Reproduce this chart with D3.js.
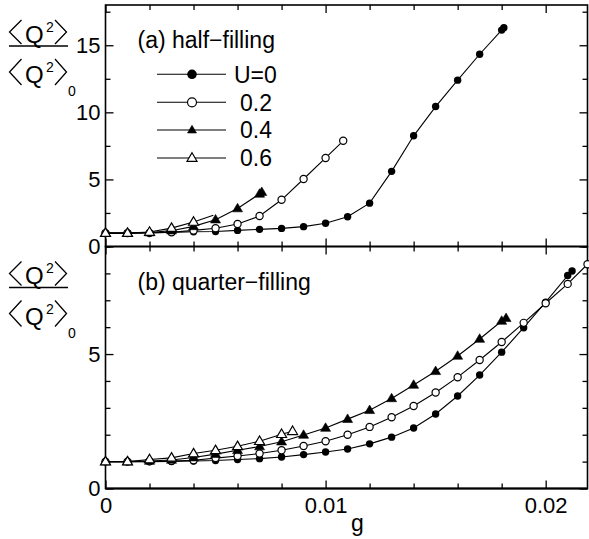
<!DOCTYPE html>
<html>
<head>
<meta charset="utf-8">
<script src="https://cdn.jsdelivr.net/npm/d3@7"></script>
<style>
  html, body { margin: 0; padding: 0; background: #fff; }
  svg { display: block; }
  text { font-family: "Liberation Sans", Arial, Helvetica, sans-serif; fill: #000; }
</style>
</head>
<body>
<svg id="chart" width="589" height="539"></svg>
<script>
// ---- data: normalized fluctuation <Q^2>/<Q^2>_0 versus coupling g ----

// (a) half-filling
const halfG_U0  = [0, 0.001, 0.002, 0.003, 0.004, 0.005, 0.006, 0.007, 0.008, 0.009, 0.010, 0.011, 0.012, 0.013, 0.014, 0.015, 0.016, 0.017, 0.018, 0.0181];
const halfU0    = [1.0, 1.0, 1.02, 1.05, 1.1, 1.12, 1.2, 1.28, 1.35, 1.48, 1.73, 2.22, 3.23, 5.6, 8.25, 10.43, 12.4, 14.33, 16.13, 16.3];
const halfG_U02 = [0, 0.001, 0.002, 0.003, 0.004, 0.005, 0.006, 0.007, 0.008, 0.009, 0.010, 0.0108];
const halfU02   = [1.0, 1.0, 1.01, 1.06, 1.2, 1.36, 1.68, 2.27, 3.48, 5.03, 6.6, 7.88];
const halfG_U04 = [0, 0.001, 0.002, 0.003, 0.004, 0.005, 0.006, 0.007, 0.0071];
const halfU04   = [1.0, 1.0, 1.04, 1.18, 1.5, 2.0, 2.83, 3.92, 4.05];
const halfG_U06 = [0, 0.001, 0.002, 0.003, 0.004, 0.0049];
const halfU06   = [1.0, 1.0, 1.08, 1.37, 1.83, 2.33];

// (b) quarter-filling
const quarterG_U0  = [0, 0.001, 0.002, 0.003, 0.004, 0.005, 0.006, 0.007, 0.008, 0.009, 0.010, 0.011, 0.012, 0.013, 0.014, 0.015, 0.016, 0.017, 0.018, 0.019, 0.020, 0.021, 0.0212];
const quarterU0    = [1.0, 1.0, 1.0, 1.01, 1.02, 1.04, 1.08, 1.11, 1.17, 1.26, 1.36, 1.47, 1.66, 1.91, 2.25, 2.77, 3.44, 4.22, 5.07, 5.98, 6.93, 7.92, 8.09];
const quarterG_U02 = [0, 0.001, 0.002, 0.003, 0.004, 0.005, 0.006, 0.007, 0.008, 0.009, 0.010, 0.011, 0.012, 0.013, 0.014, 0.015, 0.016, 0.017, 0.018, 0.019, 0.020, 0.021, 0.0219];
const quarterU02   = [1.0, 1.0, 1.01, 1.02, 1.05, 1.13, 1.21, 1.3, 1.42, 1.58, 1.76, 2.0, 2.29, 2.65, 3.07, 3.57, 4.14, 4.78, 5.45, 6.16, 6.89, 7.61, 8.34];
const quarterG_U04 = [0, 0.001, 0.002, 0.003, 0.004, 0.005, 0.006, 0.007, 0.008, 0.009, 0.010, 0.011, 0.012, 0.013, 0.014, 0.015, 0.016, 0.017, 0.018, 0.0182];
const quarterU04   = [1.0, 1.0, 1.02, 1.06, 1.15, 1.28, 1.42, 1.56, 1.74, 1.99, 2.25, 2.58, 2.91, 3.35, 3.85, 4.36, 4.93, 5.56, 6.23, 6.33];
const quarterG_U06 = [0, 0.001, 0.002, 0.003, 0.004, 0.005, 0.006, 0.007, 0.008, 0.0085];
const quarterU06   = [1.0, 1.0, 1.08, 1.14, 1.3, 1.42, 1.57, 1.76, 2.02, 2.13];

// legend entries and panel captions
const legendLabels = ["U=0", "0.2", "0.4", "0.6"];
const markerKinds  = ["dot", "circle", "triFilled", "triOpen"];
const panelTitles  = ["(a) half\u2212filling", "(b) quarter\u2212filling"];

// axis ticks
const xMajorTicks   = [0, 0.01, 0.02];
const xTickLabels   = ["0", "0.01", "0.02"];
const halfYMajor    = [0, 5, 10, 15];
const quarterYMajor = [0, 5];

// ---- layout ----
const svg = d3.select("#chart");
const xLeft = 105.5, xRight = 587.5;
const x = d3.scaleLinear().domain([0, 0.0219]).range([xLeft, xRight]);
const xMinor = d3.range(0, 0.0219, 0.002);

const panels = [
  { top: 5,     bottom: 246.5, ymax: 18, minorStep: 2.5, major: halfYMajor,
    title: panelTitles[0], titleY: 48, labelBar: 46,
    series: [
      { g: halfG_U0,  v: halfU0,  kind: "dot" },
      { g: halfG_U02, v: halfU02, kind: "circle" },
      { g: halfG_U04, v: halfU04, kind: "triFilled" },
      { g: halfG_U06, v: halfU06, kind: "triOpen", unmarkedTail: 1 }
    ] },
  { top: 246.5, bottom: 488.5, ymax: 9,  minorStep: 1,   major: quarterYMajor,
    title: panelTitles[1], titleY: 290, labelBar: 287.5,
    series: [
      { g: quarterG_U0,  v: quarterU0,  kind: "dot" },
      { g: quarterG_U02, v: quarterU02, kind: "circle" },
      { g: quarterG_U04, v: quarterU04, kind: "triFilled" },
      { g: quarterG_U06, v: quarterU06, kind: "triOpen" }
    ] }
];

// marker shapes, drawn around (0,0); k scales the symbol
function drawMarker(sel, kind, k) {
  k = k || 1;
  if (kind === "dot") {
    sel.append("circle").attr("r", 3.7 * k).attr("fill", "#000");
  } else if (kind === "circle") {
    sel.append("circle").attr("r", 3.6 * k).attr("fill", "#fff")
      .attr("stroke", "#000").attr("stroke-width", 1.2);
  } else {
    const tri = `M0,${-5.2 * k}L${5 * k},${3.3 * k}L${-5 * k},${3.3 * k}Z`;
    if (kind === "triFilled") {
      sel.append("path").attr("d", tri).attr("fill", "#000")
        .attr("stroke", "#000").attr("stroke-width", 0.6).attr("stroke-linejoin", "miter");
    } else {
      sel.append("path").attr("d", tri).attr("fill", "#fff")
        .attr("stroke", "#000").attr("stroke-width", 1.2).attr("stroke-linejoin", "miter");
    }
  }
}

function styleAxis(g) {
  g.select(".domain").remove();
  g.selectAll(".tick line").attr("stroke", "#000").attr("stroke-width", 1.3);
  g.selectAll(".tick text").style("font-size", "22px")
    .style("font-family", "'Liberation Sans', Arial, sans-serif").attr("fill", "#000");
}

panels.forEach((p, pi) => {
  const y = d3.scaleLinear().domain([0, p.ymax]).range([p.bottom, p.top]);
  const yMinor = d3.range(0, p.ymax + 1e-9, p.minorStep).filter(v => !p.major.includes(v));
  const xMin = xMinor.filter(v => !xMajorTicks.some(m => Math.abs(m - v) < 1e-9));
  const isLast = pi === panels.length - 1;

  // ticks on all four sides, pointing inward
  const addAxis = (axisGen, tx, ty, vals, len, fmt, pad) => {
    const a = axisGen.tickValues(vals).tickSize(-len).tickPadding(pad || 3);
    a.tickFormat(fmt || (() => ""));
    svg.append("g").attr("transform", `translate(${tx},${ty})`).call(a).call(styleAxis);
  };
  addAxis(d3.axisBottom(x), 0, p.bottom, xMin, 5);
  addAxis(d3.axisBottom(x), 0, p.bottom, xMajorTicks, 8,
    isLast ? ((d, i) => xTickLabels[i]) : null, 9);
  addAxis(d3.axisTop(x), 0, p.top, xMin, 5);
  addAxis(d3.axisTop(x), 0, p.top, xMajorTicks, 8);
  addAxis(d3.axisLeft(y), xLeft, 0, yMinor, 5);
  addAxis(d3.axisLeft(y), xLeft, 0, p.major, 8, d => String(d), 5);
  addAxis(d3.axisRight(y), xRight, 0, yMinor, 5);
  addAxis(d3.axisRight(y), xRight, 0, p.major, 8);

  // frame
  svg.append("rect")
    .attr("x", xLeft).attr("y", p.top)
    .attr("width", xRight - xLeft).attr("height", p.bottom - p.top)
    .attr("fill", "none").attr("stroke", "#000").attr("stroke-width", 1.6);

  // caption
  svg.append("text").attr("x", 137.5).attr("y", p.titleY)
    .style("font-size", "23px").text(p.title);

  // series
  const line = d3.line().x(d => x(d[0])).y(d => y(d[1]));
  p.series.forEach(s => {
    const pts = s.g.map((g, i) => [g, s.v[i]]);
    svg.append("path").datum(pts).attr("d", line)
      .attr("fill", "none").attr("stroke", "#000").attr("stroke-width", 1.1);
    const marked = pts.slice(0, pts.length - (s.unmarkedTail || 0));
    svg.append("g").selectAll("g").data(marked).join("g")
      .attr("transform", d => `translate(${x(d[0])},${y(d[1])})`)
      .each(function () { drawMarker(d3.select(this), s.kind); });
  });

  // y-axis label: <Q^2> / <Q^2>_0
  const lab = svg.append("g").attr("transform", `translate(0,${p.labelBar})`);
  const bracket = (x0, x1, yTop, yBot) =>
    lab.append("path").attr("d", `M${x0},${yTop}L${x1},${(yTop + yBot) / 2}L${x0},${yBot}`)
      .attr("fill", "none").attr("stroke", "#000").attr("stroke-width", 1.3);
  const braket = (yTop, yBot, qBase) => {
    bracket(21.5, 9.5, yTop, yBot);
    bracket(55, 66.5, yTop, yBot);
    lab.append("text").attr("x", 25).attr("y", qBase).style("font-size", "24px").text("Q");
    lab.append("text").attr("x", 46).attr("y", qBase - 11).style("font-size", "14px").text("2");
  };
  braket(-26, -2, -3.5);
  lab.append("line").attr("x1", 9).attr("x2", 68).attr("y1", 0).attr("y2", 0)
    .attr("stroke", "#000").attr("stroke-width", 1.5);
  braket(13, 39, 37);
  lab.append("text").attr("x", 68).attr("y", 50).style("font-size", "14px").text("0");
});

// bottom axis line drawn heavier
svg.append("line").attr("x1", xLeft).attr("x2", xRight)
  .attr("y1", panels[1].bottom).attr("y2", panels[1].bottom)
  .attr("stroke", "#000").attr("stroke-width", 2);

// x-axis title
svg.append("text").attr("x", 357.5).attr("y", 531).attr("text-anchor", "middle")
  .style("font-size", "23px").text("g");

// legend in panel (a)
const legendRows = [74.3, 102.3, 130, 158];
const legendScale = [1.3, 1.25, 0.9, 1.0];
legendLabels.forEach((lbl, i) => {
  const ly = legendRows[i];
  svg.append("line").attr("x1", 157).attr("x2", 226).attr("y1", ly).attr("y2", ly)
    .attr("stroke", "#000").attr("stroke-width", 1.1);
  const m = svg.append("g").attr("transform", `translate(192,${ly})`);
  drawMarker(m, markerKinds[i], legendScale[i]);
  svg.append("text").attr("x", i === 0 ? 234 : 240).attr("y", ly + 8.2)
    .style("font-size", "23px").text(lbl);
});
</script>
</body>
</html>
